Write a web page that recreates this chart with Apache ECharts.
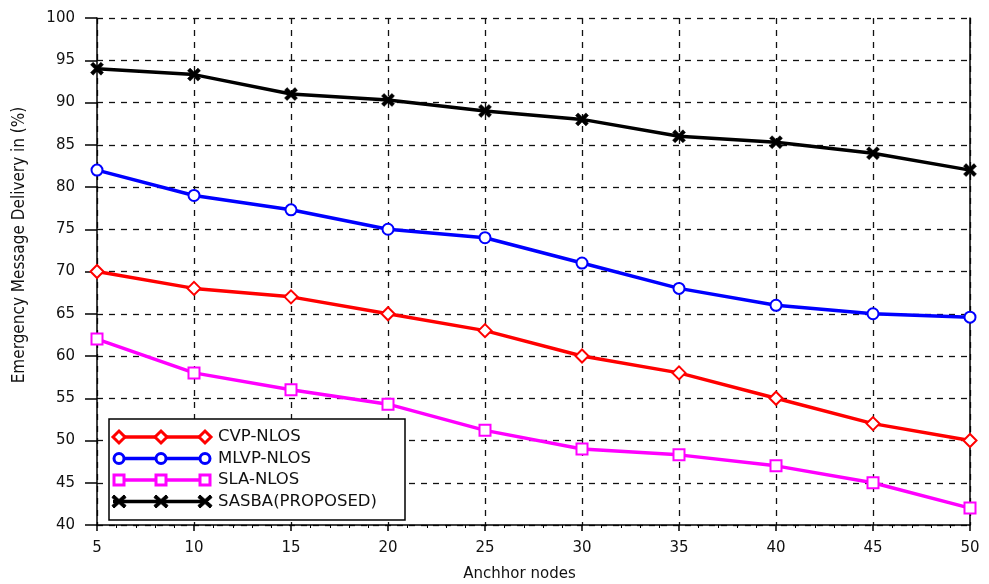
<!DOCTYPE html>
<html>
<head>
<meta charset="utf-8">
<script src="https://cdn.jsdelivr.net/npm/echarts@6/dist/echarts.min.js"></script>
<style>
    html, body { margin: 0; padding: 0; background: #fff; }
</style>
</head>
<body>
<div id="main" style="width: 989px;height:584px;"></div>
<script type="text/javascript">
    // data
    var anchorNodes = [5, 10, 15, 20, 25, 30, 35, 40, 45, 50];
    var cvpNlos = [70, 68, 67, 65, 63, 60, 58, 55, 52, 50];
    var mlvpNlos = [82, 79, 77.3, 75, 74, 71, 68, 66, 65, 64.6];
    var slaNlos = [62, 58, 56, 54.3, 51.2, 49, 48.3, 47, 45, 42];
    var sasba = [94, 93.3, 91, 90.3, 89, 88, 86, 85.3, 84, 82];

    var seriesNames = ['CVP-NLOS', 'MLVP-NLOS', 'SLA-NLOS', 'SASBA(PROPOSED)'];
    var seriesColors = ['#ff0000', '#0000ff', '#ff00ff', '#000000'];
    var crossPath = 'path://M2,0L5,3L8,0L10,2L7,5L10,8L8,10L5,7L2,10L0,8L3,5L0,2Z';
    var seriesSymbols = ['emptyDiamond', 'emptyCircle', 'emptyRect', crossPath];
    var seriesData = [cvpNlos, mlvpNlos, slaNlos, sasba];

    var myChart = echarts.init(document.getElementById('main'));

    function pairs(ys) {
        return anchorNodes.map(function (x, i) { return [x, ys[i]]; });
    }

    var series = seriesNames.map(function (name, i) {
        return {
            name: name,
            type: 'line',
            data: pairs(seriesData[i]),
            symbol: seriesSymbols[i],
            symbolSize: i === 3 ? 13 : (i === 0 ? 13 : 11),
            showAllSymbol: true,
            lineStyle: { color: seriesColors[i], width: 3.5 },
            itemStyle: {
                color: i === 3 ? '#000' : seriesColors[i],
                borderColor: seriesColors[i],
                borderWidth: i === 3 ? 0.5 : 3
            },
            z: 10 - i
        };
    });

    // legend box drawn by hand: line with three markers, like the original
    var legendItems = [{
        type: 'rect',
        shape: { x: 109, y: 419, width: 296, height: 101 },
        style: { fill: '#fff', stroke: '#000', lineWidth: 1.5 },
        z: 100
    }];
    seriesNames.forEach(function (name, i) {
        var y = 437 + i * 21.5;
        legendItems.push({
            type: 'line',
            shape: { x1: 113, y1: y, x2: 205, y2: y },
            style: { stroke: seriesColors[i], lineWidth: 3.5 },
            z: 101
        });
        [119, 161, 205].forEach(function (cx) {
            var s;
            if (i === 0) {
                s = { type: 'polygon', shape: { points: [[cx, y - 6], [cx + 6, y], [cx, y + 6], [cx - 6, y]] },
                      style: { fill: '#fff', stroke: seriesColors[i], lineWidth: 3 } };
            } else if (i === 1) {
                s = { type: 'circle', shape: { cx: cx, cy: y, r: 5 },
                      style: { fill: '#fff', stroke: seriesColors[i], lineWidth: 3 } };
            } else if (i === 2) {
                s = { type: 'rect', shape: { x: cx - 5, y: y - 5, width: 10, height: 10 },
                      style: { fill: '#fff', stroke: seriesColors[i], lineWidth: 3 } };
            } else {
                s = { type: 'polygon', shape: { points: [[cx - 5, y - 6.5], [cx, y - 2], [cx + 5, y - 6.5], [cx + 7, y - 4], [cx + 2.5, y], [cx + 7, y + 4], [cx + 5, y + 6.5], [cx, y + 2], [cx - 5, y + 6.5], [cx - 7, y + 4], [cx - 2.5, y], [cx - 7, y - 4]] },
                      style: { fill: '#000', stroke: '#000', lineWidth: 1 } };
            }
            s.z = 102;
            legendItems.push(s);
        });
        legendItems.push({
            type: 'text',
            style: { x: 218, y: y, text: name, fill: '#111', font: '16.5px "DejaVu Sans"', verticalAlign: 'middle' },
            z: 102
        });
    });

    // y axis title sits a bit above the middle in the original
    legendItems.push({
        type: 'text',
        x: 20,
        y: 245,
        rotation: Math.PI / 2,
        style: {
            text: 'Emergency Message Delivery in (%)',
            fill: '#111',
            font: '17px "DejaVu Sans Condensed"',
            align: 'center',
            verticalAlign: 'middle'
        }
    });

    var option = {
        backgroundColor: '#fff',
        animation: false,
        grid: { left: 97, right: 19, top: 18, bottom: 59, show: false, outerBoundsMode: 'none' },
        xAxis: {
            type: 'value',
            min: 5,
            max: 50,
            interval: 5,
            name: 'Anchhor nodes',
            nameLocation: 'middle',
            nameGap: 42,
            nameTextStyle: { color: '#111', fontSize: 15, fontFamily: 'DejaVu Sans', padding: [0, 28, 0, 0] },
            axisLine: { show: true, onZero: false, lineStyle: { color: '#000', width: 1.5 } },
            axisTick: { show: true, inside: false, length: 6, lineStyle: { color: '#000', width: 1.5 } },
            minorTick: { show: true, splitNumber: 5, length: 3, lineStyle: { color: '#000' } },
            axisLabel: { color: '#111', fontSize: 15, fontFamily: 'DejaVu Sans', margin: 16 },
            splitLine: { show: true, lineStyle: { color: '#111', type: [6, 6], width: 1.3 } }
        },
        yAxis: [{
            type: 'value',
            min: 40,
            max: 100,
            interval: 5,
            axisLine: { show: true, lineStyle: { color: '#000', width: 1.5 } },
            axisTick: { show: true, inside: false, length: 12, lineStyle: { color: '#000', width: 1.5 } },
            axisLabel: { color: '#111', fontSize: 15, fontFamily: 'DejaVu Sans', margin: 22 },
            splitLine: { show: true, lineStyle: { color: '#111', type: [6, 6], width: 1.3 } }
        }, {
            type: 'value',
            position: 'right',
            min: 40,
            max: 100,
            interval: 5,
            axisLine: { show: true, lineStyle: { color: '#000', width: 1.5 } },
            axisTick: { show: false },
            axisLabel: { show: false },
            splitLine: { show: false }
        }],
        series: series,
        graphic: legendItems
    };

    myChart.setOption(option);
</script>
</body>
</html>
